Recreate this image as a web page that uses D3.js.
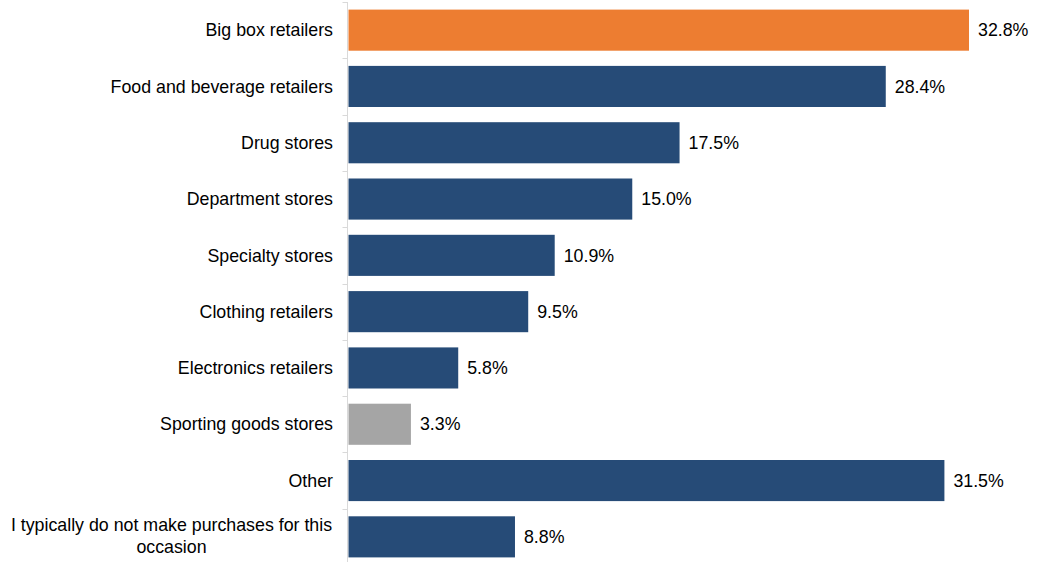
<!DOCTYPE html>
<html><head><meta charset="utf-8">
<script src="https://cdn.jsdelivr.net/npm/d3@7"></script>
<style>body{margin:0;background:#fff}svg{display:block}</style>
</head><body>
<svg id="c" width="1037" height="562"></svg>
<script>
const categories = ["Big box retailers","Food and beverage retailers","Drug stores","Department stores","Specialty stores","Clothing retailers","Electronics retailers","Sporting goods stores","Other","I typically do not make purchases for this occasion"];
const values = [32.8,28.4,17.5,15.0,10.9,9.5,5.8,3.3,31.5,8.8];
const highlight = ["orange","navy","navy","navy","navy","navy","navy","gray","navy","navy"];
const colorMap = {orange:"#ED7D31", navy:"#264B77", gray:"#A5A5A5"};

const svg = d3.select("#c");
const x0 = 348.5;
const x = d3.scaleLinear().domain([0,32.8]).range([x0, 969]);
const y = d3.scaleBand().domain(categories).range([2, 565]).paddingInner(0.27).paddingOuter(0.135);
const font = "'Liberation Sans', Arial, sans-serif";
const fs = 17.8;

const bandEdges = categories.map(c => y(c) - y.step()*y.paddingInner()/2);
svg.append("line").attr("x1",x0-1).attr("x2",x0-1).attr("y1",2).attr("y2",565).attr("stroke","#D9D9D9").attr("stroke-width",1);
svg.selectAll("line.tk").data(bandEdges).enter().append("line").attr("class","tk")
  .attr("x1",x0-6).attr("x2",x0-1).attr("y1",d=>Math.round(d)+0.5).attr("y2",d=>Math.round(d)+0.5)
  .attr("stroke","#D9D9D9");

svg.selectAll("rect.bar").data(categories).enter().append("rect").attr("class","bar")
  .attr("x",x(0)).attr("y",d=>y(d)).attr("height",y.bandwidth())
  .attr("width",(d,i)=>x(values[i])-x(0))
  .attr("fill",(d,i)=>colorMap[highlight[i]]);

svg.selectAll("text.val").data(categories).enter().append("text").attr("class","val")
  .attr("x",(d,i)=>x(values[i])+9).attr("y",d=>y(d)+y.bandwidth()/2).attr("dy","0.35em")
  .attr("font-family",font).attr("font-size",fs).attr("fill","#000")
  .text((d,i)=>values[i].toFixed(1)+"%");

const lab = svg.selectAll("text.cat").data(categories).enter().append("text").attr("class","cat")
  .attr("font-family",font).attr("font-size",fs).attr("fill","#000").attr("text-anchor","middle");
lab.each(function(d){
  const t = d3.select(this);
  const cy = y(d)+y.bandwidth()/2;
  if (d.startsWith("I typically")) {
    t.append("tspan").attr("x",171.5).attr("y",cy-6).text("I typically do not make purchases for this");
    t.append("tspan").attr("x",171.5).attr("y",cy+16).text("occasion");
  } else {
    t.attr("text-anchor","end").attr("x",333).attr("y",cy).attr("dy","0.35em").text(d);
  }
});
</script>
</body></html>
